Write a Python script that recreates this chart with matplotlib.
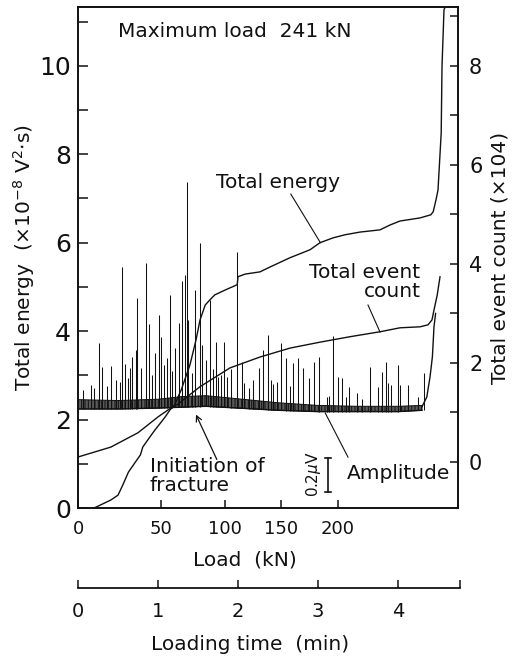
"""
Acoustic emission record during loading: total energy, total event count
and amplitude trace against loading time (with the load scale above it).
"""
import numpy as np
import matplotlib.pyplot as plt
from matplotlib.ticker import FixedLocator, MultipleLocator

# ---- data (time in min) ----
# total energy (x1e-8 V^2 s), left axis
energy_t = [0.20, 0.225, 0.41, 0.50, 0.56, 0.63, 0.71, 0.78, 0.81, 0.90, 0.96,
            1.03, 1.09, 1.15, 1.21, 1.25, 1.29, 1.40, 1.475, 1.525, 1.59, 1.65,
            1.71, 1.84, 1.99, 2.00, 2.09, 2.275, 2.40, 2.65, 2.90, 3.025, 3.19,
            3.34, 3.525, 3.775, 3.90, 4.025, 4.275, 4.41, 4.44, 4.475, 4.50,
            4.54, 4.55, 4.575, 4.59]
energy_v = [0.00, 0.02, 0.18, 0.29, 0.52, 0.81, 1.02, 1.20, 1.38, 1.61, 1.76,
            1.92, 2.06, 2.22, 2.33, 2.51, 2.67, 3.24, 3.80, 4.25, 4.59, 4.71,
            4.82, 4.93, 5.05, 5.23, 5.29, 5.34, 5.45, 5.66, 5.84, 6.00, 6.11,
            6.18, 6.24, 6.29, 6.40, 6.49, 6.56, 6.63, 6.70, 6.97, 7.19,
            8.48, 9.98, 11.27, 11.33]

# total event count (x10^4), right axis
count_t = [0.00, 0.41, 0.75, 1.00, 1.16, 1.25, 1.525, 1.90, 2.275, 2.65, 3.025,
           3.40, 3.775, 4.025, 4.275, 4.375, 4.425, 4.45, 4.49, 4.525]
count_v = [0.10, 0.30, 0.59, 0.91, 1.09, 1.17, 1.52, 1.90, 2.12, 2.30, 2.42,
           2.53, 2.63, 2.71, 2.73, 2.77, 2.87, 3.07, 3.37, 3.74]

# amplitude trace: noise band and spikes (left-axis units)
band_t = [0.00, 0.50, 1.00, 1.30, 1.60, 2.00, 2.50, 3.00, 3.50, 4.00, 4.30]
band_hi = [2.45, 2.43, 2.46, 2.52, 2.54, 2.47, 2.38, 2.32, 2.30, 2.30, 2.32]
band_lo = [2.24, 2.24, 2.26, 2.28, 2.30, 2.26, 2.21, 2.18, 2.18, 2.18, 2.21]
rise_t = [4.30, 4.36, 4.40, 4.43, 4.45, 4.47]
rise_v = [2.29, 2.51, 2.96, 3.42, 4.10, 4.40]

spike_t = [0.06, 0.16, 0.20, 0.26, 0.30, 0.41, 0.48, 0.55, 0.59, 0.65, 0.68,
           0.73, 0.74, 0.79, 0.85, 0.89, 0.96, 1.01, 1.04, 1.08, 1.11, 1.15,
           1.21, 1.26, 1.30, 1.34, 1.36, 1.38, 1.46, 1.53, 1.55, 1.60, 1.65,
           1.73, 1.75, 1.83, 1.86, 1.91, 1.99, 2.05, 2.08, 2.14, 2.26, 2.31,
           2.38, 2.41, 2.49, 2.54, 2.60, 2.69, 2.75, 2.81, 2.89, 2.95, 3.01,
           3.11, 3.14, 3.19, 3.25, 3.30, 3.35, 3.39, 3.49, 3.55, 3.65, 3.75,
           3.80, 3.85, 3.88, 3.91, 4.00, 4.03, 4.13, 4.25, 4.33,
           0.36, 0.52, 0.63, 0.92, 1.18, 1.42, 1.69, 1.79, 2.19, 2.44, 2.65]
spike_v = [2.67, 2.78, 2.71, 3.73, 3.19, 3.21, 2.90, 5.45, 3.26, 3.17, 3.42,
           3.57, 4.75, 3.17, 5.54, 4.16, 3.51, 4.37, 3.87, 3.24, 3.39, 4.82,
           3.62, 4.19, 5.14, 5.27, 7.38, 4.25, 4.93, 6.00, 3.69, 3.35, 4.71,
           3.76, 2.96, 3.76, 2.96, 3.14, 5.79, 3.30, 2.83, 2.71, 3.17, 3.57,
           3.91, 2.90, 2.85, 3.73, 3.39, 3.28, 3.39, 3.17, 2.94, 3.30, 3.42,
           2.51, 2.53, 3.89, 2.96, 2.94, 2.51, 2.74, 2.60, 2.47, 3.19, 2.74,
           3.08, 3.30, 2.83, 2.78, 3.24, 2.78, 2.78, 2.51, 3.05,
           2.75, 2.85, 2.95, 3.00, 3.10, 3.05, 3.15, 3.00, 2.90, 2.80, 2.75]

# tick labels
load_ticks = ["0", "50", "100", "150", "200"]
load_tick_t = [0.0, 1.04, 1.84, 2.54, 3.25]
time_ticks = [0, 1, 2, 3, 4]

W, H = 518, 660
fig = plt.figure(figsize=(W / 100, H / 100), dpi=100)
plt.rcParams['font.family'] = ['DejaVu Sans']
plt.rcParams['hatch.linewidth'] = 0.7
ink = '#111111'
fs = 14.5

ax = fig.add_axes([78 / W, 1 - 508 / H, 380 / W, 501 / H])
ax.set_xlim(0, 4.75)
ax.set_ylim(0, 11.33)
for s in ax.spines.values():
    s.set_linewidth(1.2)
    s.set_color(ink)

# amplitude
ax.fill_between(band_t, band_lo, band_hi, facecolor='#5a5a5a', edgecolor=ink,
                hatch='|||||', lw=0.7)
ax.plot(band_t, band_lo, color=ink, lw=1.0)
ax.plot(rise_t, rise_v, color=ink, lw=1.0)
spike_base = np.interp(spike_t, band_t, band_lo)
ax.vlines(spike_t, spike_base, spike_v, color=ink, lw=0.75)

# total energy
ax.plot(energy_t, energy_v, color=ink, lw=1.0)

# total event count on right axis
axr = ax.twinx()
axr.set_ylim(-0.93, 9.19)
axr.plot(count_t, count_v, color=ink, lw=1.0)
for s in axr.spines.values():
    s.set_linewidth(1.2)
    s.set_color(ink)

# ticks
ax.yaxis.set_major_locator(MultipleLocator(2))
ax.yaxis.set_minor_locator(MultipleLocator(1))
ax.tick_params(axis='y', which='both', direction='in', length=7, width=1.1,
               labelsize=18, pad=5, colors=ink)
ax.xaxis.set_major_locator(FixedLocator(load_tick_t))
ax.set_xticklabels(load_ticks)
ax.tick_params(axis='x', which='both', direction='in', length=6, width=1.1,
               labelsize=13, pad=9, colors=ink)
axr.yaxis.set_minor_locator(MultipleLocator(1))
axr.set_yticks([0, 2, 4, 6, 8])
axr.tick_params(axis='y', which='both', direction='in', length=6, width=1.1,
                labelsize=15, pad=8, colors=ink)

ax.set_ylabel("Total energy  ($\\times$10$^{-8}$ V$^2$$\\cdot$s)", fontsize=fs,
              labelpad=2, color=ink)
axr.set_ylabel("Total event count (\u00d7104)", fontsize=fs, labelpad=6, color=ink)
fig.text(245 / W, 1 - 560 / H, "Load  (kN)", ha='center', va='center',
         fontsize=fs, color=ink)

# loading-time axis underneath
axt = fig.add_axes([78 / W, 1 - 588 / H, 382 / W, 0.001])
axt.set_xlim(0, 4.775)
for k in ['top', 'left', 'right']:
    axt.spines[k].set_visible(False)
axt.spines['bottom'].set_linewidth(1.2)
axt.set_yticks([])
axt.set_xticks(time_ticks)
axt.xaxis.set_minor_locator(FixedLocator([4.775]))
axt.tick_params(axis='x', which='both', direction='in', length=6, width=1.1,
                labelsize=14, pad=10, colors=ink)
fig.text(250 / W, 1 - 645 / H, "Loading time  (min)", ha='center', va='center',
         fontsize=fs, color=ink)

# annotations
ax.text(0.5, 10.77, "Maximum load  241 kN", fontsize=fs, va='center', color=ink)
ax.text(1.725, 7.35, "Total energy", fontsize=fs, va='center', color=ink)
ax.plot([2.66, 3.03], [7.10, 6.00], color=ink, lw=0.8)
ax.text(4.28, 5.10, "Total event\ncount", fontsize=fs, va='center', ha='right',
        multialignment='right', linespacing=1.0, color=ink)
ax.plot([3.625, 3.775], [4.59, 3.98], color=ink, lw=0.8)
ax.text(0.9, 0.72, "Initiation of\nfracture", fontsize=fs, va='center',
        linespacing=1.0, color=ink)
ax.annotate("", xy=(1.46, 2.17), xytext=(1.75, 1.04),
            arrowprops=dict(arrowstyle='->', color=ink, lw=0.9))
ax.text(2.94, 0.76, "0.2$\\mu$V", fontsize=11, rotation=90, ha='center',
        va='center', color=ink)
ax.plot([3.125, 3.125], [0.36, 1.13], color=ink, lw=1.2)
ax.plot([3.085, 3.165], [1.13, 1.13], color=ink, lw=1.2)
ax.plot([3.085, 3.165], [0.36, 0.36], color=ink, lw=1.2)
ax.text(3.36, 0.77, "Amplitude", fontsize=fs, va='center', color=ink)
ax.plot([3.09, 3.375], [2.15, 1.15], color=ink, lw=0.8)

fig.savefig("out.png", dpi=100)
